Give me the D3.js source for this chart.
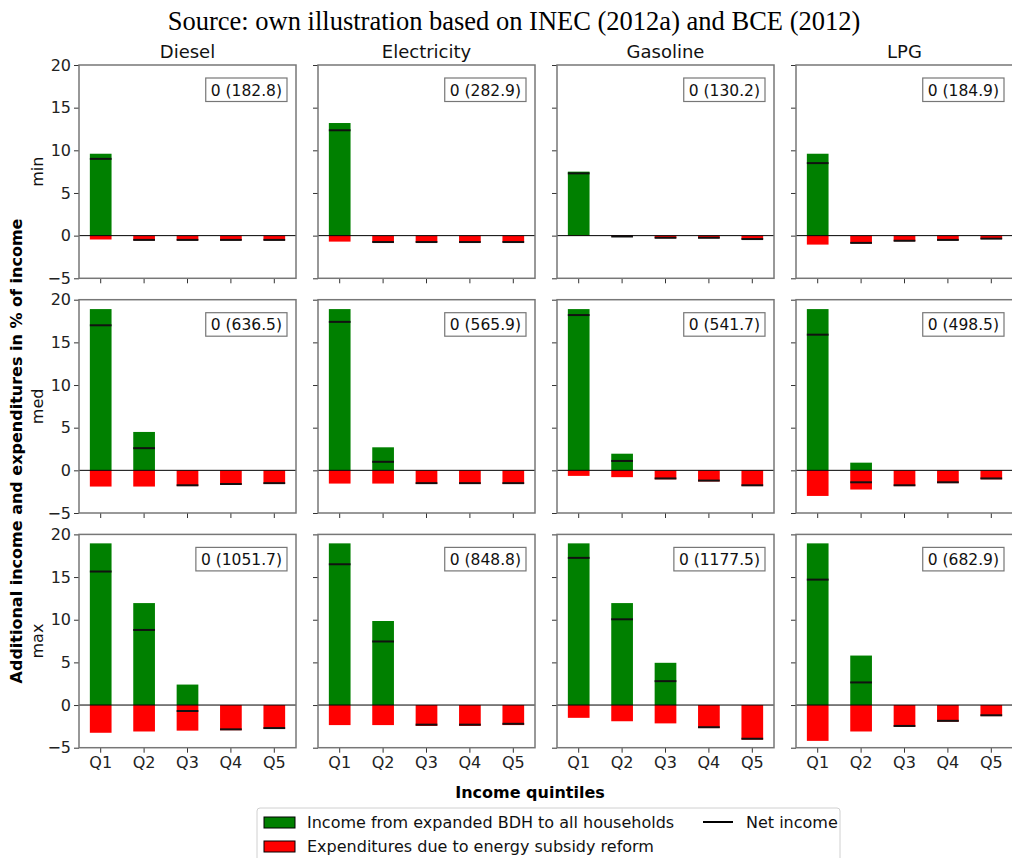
<!DOCTYPE html>
<html>
<head>
<meta charset="utf-8">
<script src="https://cdn.jsdelivr.net/npm/d3@7"></script>
<style>
  body { margin: 0; background: #fff; }
  text { font-family: "DejaVu Sans", sans-serif; }
</style>
</head>
<body>
<div id="chart"></div>
<script>
// Data
var fuels = ["Diesel", "Electricity", "Gasoline", "LPG"];
var scenarios = ["min", "med", "max"];
var quintiles = ["Q1", "Q2", "Q3", "Q4", "Q5"];
var yTicks = [-5, 0, 5, 10, 15, 20];

// income from expanded BDH, [scenario][fuel][quintile]
var income = [
  [[9.6, 0, 0, 0, 0], [13.2, 0, 0, 0, 0], [7.5, 0, 0, 0, 0], [9.6, 0, 0, 0, 0]],
  [[18.9, 4.5, 0, 0, 0], [18.9, 2.7, 0, 0, 0], [18.9, 1.95, 0, 0, 0], [18.9, 0.9, 0, 0, 0]],
  [[18.95, 11.95, 2.4, 0, 0], [18.95, 9.85, 0, 0, 0], [18.95, 11.95, 4.95, 0, 0], [18.95, 5.8, 0, 0, 0]]
];
// expenditures due to subsidy reform
var expend = [
  [[-0.45, -0.55, -0.55, -0.55, -0.55], [-0.7, -0.8, -0.8, -0.8, -0.8], [-0.03, -0.1, -0.3, -0.3, -0.45], [-1.05, -0.9, -0.65, -0.55, -0.4]],
  [[-1.9, -1.9, -1.85, -1.7, -1.6], [-1.55, -1.55, -1.6, -1.6, -1.6], [-0.65, -0.8, -1.05, -1.3, -1.85], [-3.0, -2.25, -1.85, -1.5, -1.05]],
  [[-3.25, -3.1, -3.0, -2.95, -2.8], [-2.35, -2.35, -2.45, -2.45, -2.35], [-1.5, -1.9, -2.15, -2.7, -4.05], [-4.2, -3.1, -2.55, -1.95, -1.3]]
];
// net income
var net = [
  [[9.0, -0.5, -0.5, -0.5, -0.5], [12.35, -0.75, -0.75, -0.75, -0.75], [7.3, -0.1, -0.25, -0.25, -0.4], [8.5, -0.85, -0.6, -0.5, -0.35]],
  [[17.0, 2.6, -1.75, -1.6, -1.5], [17.4, 1.0, -1.5, -1.5, -1.5], [18.2, 1.1, -0.95, -1.2, -1.75], [15.9, -1.4, -1.75, -1.4, -0.95]],
  [[15.65, 8.8, -0.7, -2.85, -2.7], [16.5, 7.45, -2.3, -2.3, -2.2], [17.25, 10.05, 2.8, -2.6, -3.95], [14.7, 2.65, -2.45, -1.85, -1.2]]
];
// text boxes in each panel
var boxLabels = [
  ["0 (182.8)", "0 (282.9)", "0 (130.2)", "0 (184.9)"],
  ["0 (636.5)", "0 (565.9)", "0 (541.7)", "0 (498.5)"],
  ["0 (1051.7)", "0 (848.8)", "0 (1177.5)", "0 (682.9)"]
];

var width = 1012, height = 858;
var panelW = 217, panelH = 213.3;
var left0 = 79, colStep = 239;
var top0 = 65, rowStep = 234.7;

var svg = d3.select("#chart").append("svg")
  .attr("width", width)
  .attr("height", height);

var x = d3.scaleBand()
  .domain(quintiles)
  .range([0, panelW])
  .paddingInner(0.5)
  .paddingOuter(0.25);

var y = d3.scaleLinear()
  .domain([-5, 20])
  .range([panelH, 0]);

// Title
svg.append("text")
  .attr("x", 514)
  .attr("y", 30)
  .attr("text-anchor", "middle")
  .style("font-family", "'Liberation Serif', 'Times New Roman', serif")
  .style("font-size", "26.5px")
  .text("Source: own illustration based on INEC (2012a) and BCE (2012)");

scenarios.forEach(function (sc, r) {
  fuels.forEach(function (fuel, c) {
    var g = svg.append("g")
      .attr("transform", "translate(" + (left0 + c * colStep) + "," + (top0 + r * rowStep) + ")");

    // y axis ticks
    var yAxis = d3.axisLeft(y).tickValues(yTicks).tickSize(5).tickPadding(3)
      .tickFormat(c === 0 ? function (d) { return d < 0 ? "\u2212" + Math.abs(d) : d; } : "");
    var ya = g.append("g").call(yAxis);
    ya.select(".domain").remove();
    ya.selectAll("line").attr("stroke", "#333");
    ya.selectAll("text").style("font-size", "16px").attr("fill", "#222");

    // x axis ticks
    var xAxis = d3.axisBottom(x).tickSize(5).tickPadding(4)
      .tickFormat(r === 2 ? null : "");
    var xa = g.append("g").attr("transform", "translate(0," + panelH + ")").call(xAxis);
    xa.select(".domain").remove();
    xa.selectAll("line").attr("stroke", "#333");
    xa.selectAll("text").style("font-size", "16px").attr("fill", "#222");

    var rows = quintiles.map(function (q, i) {
      return { q: q, inc: income[r][c][i], exp: expend[r][c][i], net: net[r][c][i] };
    });

    // green bars
    g.selectAll(".inc").data(rows).enter().append("rect")
      .attr("class", "inc")
      .attr("x", function (d) { return x(d.q); })
      .attr("width", x.bandwidth())
      .attr("y", function (d) { return y(Math.max(0, d.inc)); })
      .attr("height", function (d) { return Math.abs(y(d.inc) - y(0)); })
      .attr("fill", "#008000");

    // red bars
    g.selectAll(".exp").data(rows).enter().append("rect")
      .attr("class", "exp")
      .attr("x", function (d) { return x(d.q); })
      .attr("width", x.bandwidth())
      .attr("y", y(0))
      .attr("height", function (d) { return Math.abs(y(d.exp) - y(0)); })
      .attr("fill", "#ff0000");

    // net income lines
    g.selectAll(".net").data(rows).enter().append("line")
      .attr("class", "net")
      .attr("x1", function (d) { return x(d.q); })
      .attr("x2", function (d) { return x(d.q) + x.bandwidth(); })
      .attr("y1", function (d) { return y(d.net); })
      .attr("y2", function (d) { return y(d.net); })
      .attr("stroke", "#111")
      .attr("stroke-width", 2);

    // zero line
    g.append("line")
      .attr("x1", 0).attr("x2", panelW)
      .attr("y1", y(0)).attr("y2", y(0))
      .attr("stroke", "#000")
      .attr("stroke-width", 1);

    // frame
    g.append("rect")
      .attr("width", panelW).attr("height", panelH)
      .attr("fill", "none")
      .attr("stroke", "#777")
      .attr("stroke-width", 1.5);

    // annotation box
    var boxRect = g.append("rect");
    var bt = g.append("text")
      .attr("x", panelW - 14)
      .attr("y", 30.5)
      .attr("text-anchor", "end")
      .style("font-size", "15.5px")
      .attr("fill", "#111")
      .text(boxLabels[r][c]);
    var bb = bt.node().getBBox();
    boxRect
      .attr("x", bb.x - 5).attr("y", 13)
      .attr("width", bb.width + 10).attr("height", 23.5)
      .attr("fill", "#fff")
      .attr("stroke", "#777")
      .attr("stroke-width", 1.2);

    // column title
    if (r === 0) {
      g.append("text")
        .attr("x", panelW / 2).attr("y", -7)
        .attr("text-anchor", "middle")
        .style("font-size", "18px")
        .attr("fill", "#111")
        .text(fuel);
    }
    // row label
    if (c === 0) {
      g.append("text")
        .attr("transform", "translate(-36," + (panelH / 2) + ") rotate(-90)")
        .attr("text-anchor", "middle")
        .style("font-size", "16px")
        .attr("fill", "#111")
        .text(sc);
    }
  });
});

// overall y label
svg.append("text")
  .attr("transform", "translate(22,451) rotate(-90)")
  .attr("text-anchor", "middle")
  .style("font-size", "16px")
  .style("font-weight", "bold")
  .text("Additional income and expenditures in % of income");

// x label
svg.append("text")
  .attr("x", 530).attr("y", 798)
  .attr("text-anchor", "middle")
  .style("font-size", "16px")
  .style("font-weight", "bold")
  .text("Income quintiles");

// legend
var legend = svg.append("g");
legend.append("rect")
  .attr("x", 257).attr("y", 808)
  .attr("width", 583).attr("height", 60)
  .attr("rx", 3)
  .attr("fill", "#fff")
  .attr("stroke", "#d0d0d0");

var legendPatches = [
  { label: "Income from expanded BDH to all households", color: "#008000" },
  { label: "Expenditures due to energy subsidy reform", color: "#ff0000" }
];
legendPatches.forEach(function (d, i) {
  legend.append("rect")
    .attr("x", 264).attr("y", 817 + i * 24)
    .attr("width", 31).attr("height", 11)
    .attr("fill", d.color)
    .attr("stroke", "#000")
    .attr("stroke-width", 1);
  legend.append("text")
    .attr("x", 307).attr("y", 828 + i * 24)
    .style("font-size", "16px")
    .attr("fill", "#111")
    .text(d.label);
});
legend.append("line")
  .attr("x1", 703).attr("x2", 733)
  .attr("y1", 822).attr("y2", 822)
  .attr("stroke", "#000").attr("stroke-width", 2);
legend.append("text")
  .attr("x", 746).attr("y", 828)
  .style("font-size", "16px")
  .attr("fill", "#111")
  .text("Net income");
</script>
</body>
</html>
